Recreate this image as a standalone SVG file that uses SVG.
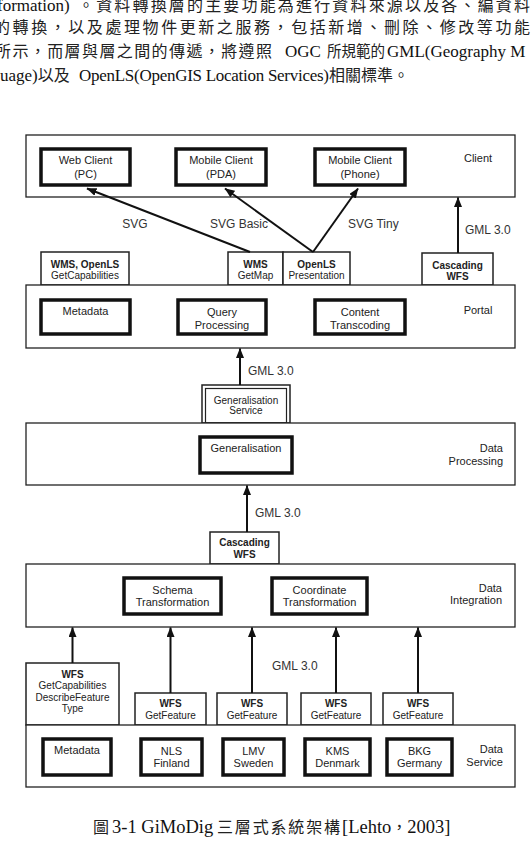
<svg xmlns="http://www.w3.org/2000/svg" width="531" height="863" viewBox="0 0 531 863">
<style>
.para{font-family:"Liberation Serif","Noto Sans CJK TC",serif;font-size:17px;fill:#111}
.cap{font-family:"Liberation Serif","Noto Sans CJK TC",serif;font-size:18.5px;fill:#111}
.cjk{font-family:"Noto Sans CJK TC","Liberation Serif",serif;font-size:16px;fill:#222}
.layer{fill:#fff;stroke:#222;stroke-width:1.3}
.box{fill:#fff;stroke:#111;stroke-width:3.5}
.iface{fill:#fff;stroke:#222;stroke-width:1.5}
.t{font-family:"Liberation Sans",Arial,sans-serif;font-size:11px;fill:#222;text-anchor:middle}
.s{font-size:10px}
.b{font-weight:bold}
.r{text-anchor:end}
.lbl{font-family:"Liberation Sans",Arial,sans-serif;font-size:12px;fill:#333}
.conn{stroke:#111;stroke-width:2;fill:none;marker-end:url(#ah)}
</style>
<defs>
<marker id="ah" markerUnits="userSpaceOnUse" markerWidth="10" markerHeight="8" refX="9.5" refY="4" orient="auto">
<path d="M0,0 L10,4 L0,8 z" fill="#111"/>
</marker>
</defs>
<rect width="531" height="863" fill="#fff"/>

<g id="paragraph">
<text class="para" x="-3" y="11" font-size="18">formation)</text>
<text class="cjk" x="78" y="11" textLength="452" lengthAdjust="spacing">。資料轉換層的主要功能為進行資料來源以及各、編資料</text>
<text class="cjk" x="-6" y="33" textLength="536" lengthAdjust="spacing">的轉換，以及處理物件更新之服務，包括新增、刪除、修改等功能</text>
<text class="cjk" x="-5" y="57" textLength="277" lengthAdjust="spacing">所示，而層與層之間的傳遞，將遵照</text>
<text class="para" x="285" y="57">OGC</text>
<text class="cjk" x="327" y="57" textLength="58" lengthAdjust="spacingAndGlyphs">所規範的</text>
<text class="para" x="387" y="57">GML(Geography M</text>
<text class="para" x="0" y="81">uage)<tspan class="cjk" font-size="13">以及</tspan></text>
<text class="para" x="79" y="81" textLength="250" lengthAdjust="spacing">OpenLS(OpenGIS Location Services)</text>
<text class="cjk" x="329" y="81">相關標準。</text>
</g>

<g id="client-layer">
<rect class="layer" x="26" y="135" width="489" height="62"/>
<text class="t" x="478" y="162">Client</text>
</g>
<g id="web-client"><rect class="box" x="41" y="149" width="89" height="36"/><text class="t" x="85.5" y="164">Web Client</text><text class="t" x="85.5" y="178">(PC)</text></g>
<g id="mobile-pda"><rect class="box" x="176" y="149" width="90" height="36"/><text class="t" x="221" y="164">Mobile Client</text><text class="t" x="221" y="178">(PDA)</text></g>
<g id="mobile-phone"><rect class="box" x="315" y="149" width="90" height="36"/><text class="t" x="360" y="164">Mobile Client</text><text class="t" x="360" y="178">(Phone)</text></g>

<g id="wms-openls-getcap"><rect class="iface" x="41" y="252" width="88" height="33"/><text class="t s b" x="85" y="267.5">WMS, OpenLS</text><text class="t s" x="85" y="279">GetCapabilities</text></g>
<g id="wms-getmap"><rect class="iface" x="228" y="252" width="55" height="33"/><text class="t s b" x="255.5" y="267.5">WMS</text><text class="t s" x="255.5" y="279">GetMap</text></g>
<g id="openls-presentation"><rect class="iface" x="283" y="252" width="67" height="33"/><text class="t s b" x="316.5" y="267.5">OpenLS</text><text class="t s" x="316.5" y="279">Presentation</text></g>
<g id="cascading-wfs-top"><rect class="iface" x="422" y="253" width="71" height="32"/><text class="t s b" x="457.5" y="268.5">Cascading</text><text class="t s b" x="457.5" y="280">WFS</text></g>

<g id="portal-layer">
<rect class="layer" x="26" y="285" width="489" height="63"/>
<text class="t" x="478" y="314">Portal</text>
</g>
<g id="portal-metadata"><rect class="box" x="41" y="300" width="89" height="34"/><text class="t" x="85.5" y="315">Metadata</text></g>
<g id="query-processing"><rect class="box" x="178" y="300" width="88" height="34"/><text class="t" x="222" y="316">Query</text><text class="t" x="222" y="329">Processing</text></g>
<g id="content-transcoding"><rect class="box" x="315" y="300" width="90" height="34"/><text class="t" x="360" y="316">Content</text><text class="t" x="360" y="329">Transcoding</text></g>

<g id="generalisation-service">
<rect class="iface" x="202" y="385" width="88" height="38"/>
<rect fill="none" stroke="#222" stroke-width="1.2" x="205.5" y="388.5" width="81" height="34.5"/>
<text class="t s" x="246" y="403.5">Generalisation</text><text class="t s" x="246" y="414">Service</text>
</g>

<g id="data-processing-layer">
<rect class="layer" x="26" y="423" width="489" height="62"/>
<text class="t r" x="503" y="452">Data</text><text class="t r" x="503" y="464.5">Processing</text>
</g>
<g id="generalisation"><rect class="box" x="200" y="437" width="92" height="36"/><text class="t" x="246" y="452">Generalisation</text></g>

<g id="cascading-wfs-mid"><rect class="iface" x="210" y="532" width="69" height="32"/><text class="t s b" x="244.5" y="545.5">Cascading</text><text class="t s b" x="244.5" y="557.5">WFS</text></g>

<g id="data-integration-layer">
<rect class="layer" x="26" y="564" width="489" height="63"/>
<text class="t r" x="502" y="592">Data</text><text class="t r" x="502" y="604">Integration</text>
</g>
<g id="schema-transformation"><rect class="box" x="124" y="578" width="97" height="36"/><text class="t" x="172.5" y="594">Schema</text><text class="t" x="172.5" y="606">Transformation</text></g>
<g id="coordinate-transformation"><rect class="box" x="272" y="578" width="95" height="36"/><text class="t" x="319.5" y="594">Coordinate</text><text class="t" x="319.5" y="606">Transformation</text></g>

<g id="wfs-getcap"><rect class="iface" x="26" y="663" width="93" height="62"/><text class="t s b" x="72.5" y="677.5">WFS</text><text class="t s" x="72.5" y="689">GetCapabilities</text><text class="t s" x="72.5" y="700.5">DescribeFeature</text><text class="t s" x="72.5" y="712">Type</text></g>
<g id="wfs-nls"><rect class="iface" x="135" y="693" width="71" height="32"/><text class="t s b" x="170.5" y="706.5">WFS</text><text class="t s" x="170.5" y="718.5">GetFeature</text></g>
<g id="wfs-lmv"><rect class="iface" x="217" y="693" width="70" height="32"/><text class="t s b" x="252" y="706.5">WFS</text><text class="t s" x="252" y="718.5">GetFeature</text></g>
<g id="wfs-kms"><rect class="iface" x="301" y="693" width="70" height="32"/><text class="t s b" x="336" y="706.5">WFS</text><text class="t s" x="336" y="718.5">GetFeature</text></g>
<g id="wfs-bkg"><rect class="iface" x="383" y="693" width="70" height="32"/><text class="t s b" x="418" y="706.5">WFS</text><text class="t s" x="418" y="718.5">GetFeature</text></g>

<g id="data-service-layer">
<rect class="layer" x="26" y="725" width="489" height="62"/>
<text class="t r" x="503" y="753">Data</text><text class="t r" x="503" y="766">Service</text>
</g>
<g id="ds-metadata"><rect class="box" x="43" y="739" width="68" height="36"/><text class="t" x="77" y="754">Metadata</text></g>
<g id="nls-finland"><rect class="box" x="141" y="739" width="61" height="36"/><text class="t" x="171.5" y="755">NLS</text><text class="t" x="171.5" y="767">Finland</text></g>
<g id="lmv-sweden"><rect class="box" x="223" y="739" width="61" height="36"/><text class="t" x="253.5" y="755">LMV</text><text class="t" x="253.5" y="767">Sweden</text></g>
<g id="kms-denmark"><rect class="box" x="305" y="739" width="65" height="36"/><text class="t" x="337.5" y="755">KMS</text><text class="t" x="337.5" y="767">Denmark</text></g>
<g id="bkg-germany"><rect class="box" x="387" y="739" width="65" height="36"/><text class="t" x="419.5" y="755">BKG</text><text class="t" x="419.5" y="767">Germany</text></g>

<g id="connectors">
<line class="conn" x1="250" y1="252" x2="87" y2="188.5"/>
<line class="conn" x1="313" y1="252" x2="225" y2="188.5"/>
<line class="conn" x1="313" y1="252" x2="358" y2="188.5"/>
<line class="conn" x1="458" y1="253" x2="458" y2="197.5"/>
<line class="conn" x1="240" y1="385" x2="240" y2="348.5"/>
<line class="conn" x1="247" y1="532" x2="247" y2="485.5"/>
<line class="conn" x1="72.5" y1="663" x2="72.5" y2="627.5"/>
<line class="conn" x1="170.5" y1="693" x2="170.5" y2="627.5"/>
<line class="conn" x1="252" y1="693" x2="252" y2="627.5"/>
<line class="conn" x1="336" y1="693" x2="336" y2="627.5"/>
<line class="conn" x1="418" y1="693" x2="418" y2="627.5"/>
<text class="lbl" x="135" y="228" text-anchor="middle">SVG</text>
<text class="lbl" x="210" y="228">SVG Basic</text>
<text class="lbl" x="348" y="228">SVG Tiny</text>
<text class="lbl" x="465" y="234">GML 3.0</text>
<text class="lbl" x="248" y="375">GML 3.0</text>
<text class="lbl" x="255" y="517">GML 3.0</text>
<text class="lbl" x="272" y="670">GML 3.0</text>
</g>

<g id="caption">
<text class="cjk" x="93" y="833" font-size="17">圖</text>
<text class="cap" x="112" y="833">3-1 GiMoDig</text>
<text class="cjk" x="217" y="833" font-size="17" textLength="123" lengthAdjust="spacing">三層式系統架構</text>
<text class="cap" x="342" y="833">[Lehto<tspan class="cjk" font-size="17">，</tspan>2003]</text>
</g>
</svg>
